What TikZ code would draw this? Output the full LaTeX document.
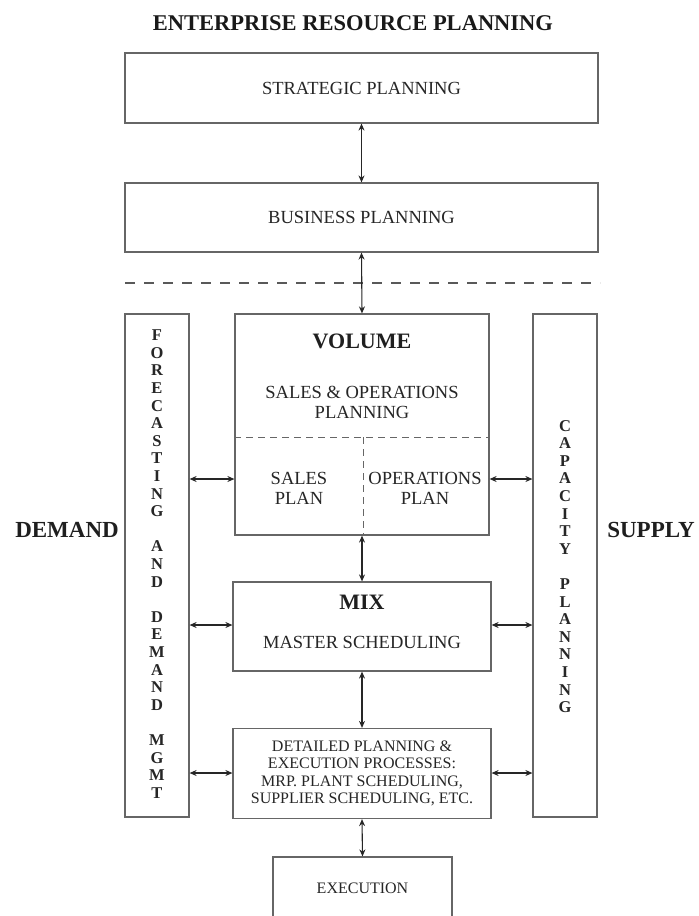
\documentclass[tikz,border=0pt]{standalone}
\usepackage{fontspec}
\setmainfont{Liberation Serif}
\usetikzlibrary{arrows.meta}
\definecolor{ink}{gray}{0.15}
\definecolor{rulegray}{gray}{0.40}
\begin{document}
\begin{tikzpicture}[x=1pt,y=-1pt,
  frame/.style={draw=rulegray, line width=1.2pt, rectangle, inner sep=0pt, text=ink},
  link/.style={draw=black!85, line width=1.1pt,
    {Stealth[length=7pt,width=6pt]}-{Stealth[length=7pt,width=6pt]}},
  divider/.style={draw=black!65, line width=1.1pt, dash pattern=on 10pt off 9pt},
  title/.style={font=\fontsize{22.5}{26}\selectfont\bfseries, text=black!90},
  head/.style={font=\fontsize{22}{26}\selectfont\bfseries, text=black!88},
  body/.style={font=\fontsize{18.5}{20}\selectfont, text=ink, align=center},
  small/.style={font=\fontsize{16}{17.5}\selectfont, text=ink, align=center},
  column/.style={font=\fontsize{16.5}{17.6}\selectfont\bfseries, text=black!85, align=center, inner sep=0pt},
  side/.style={font=\fontsize{23}{26}\selectfont\bfseries, text=black!88}
]
\clip (0,0) rectangle (699,916);
\fill[white] (0,0) rectangle (699,916);

% heading
\node[title] (erp) at (353,23) {ENTERPRISE RESOURCE PLANNING};

% upper planning levels
\node[frame, minimum width=473pt, minimum height=70pt, body] (strat) at (361.5,88) {STRATEGIC PLANNING};
\node[frame, minimum width=473pt, minimum height=69pt, body] (bus) at (361.5,217.5) {BUSINESS PLANNING};

% boundary between business and operational planning
\coordinate (dl) at (125,283);
\coordinate (dr) at (600,283);
\draw[divider] (dl) -- (dr);

% demand and supply columns
\node[frame, minimum width=64pt, minimum height=503pt] (fcst) at (157,565.5) {};
\node[frame, minimum width=64pt, minimum height=503pt] (cap) at (565,565.5) {};
\node[column] (fcsttxt) at (157,564) {F\\O\\R\\E\\C\\A\\S\\T\\I\\N\\G\\\mbox{}\\A\\N\\D\\\mbox{}\\D\\E\\M\\A\\N\\D\\\mbox{}\\M\\G\\M\\T};
\node[column] (captxt) at (565,566.5) {C\\A\\P\\A\\C\\I\\T\\Y\\\mbox{}\\P\\L\\A\\N\\N\\I\\N\\G};
\node[side] (demand) at (67,530) {DEMAND};
\node[side] (supply) at (651,530) {SUPPLY};

% volume: sales & operations planning
\node[frame, minimum width=254pt, minimum height=221pt] (vol) at (362,424.5) {};
\node[head] (voltxt) at (362,341) {VOLUME};
\node[body] (soptxt) at (362,402) {SALES \& OPERATIONS\\PLANNING};
\coordinate (hl) at (235,437);
\coordinate (hr) at (489,437);
\coordinate (vb) at (363,535);
\draw[rulegray, line width=1pt, dash pattern=on 7pt off 5pt] (vol.west |- hl) -- (vol.east |- hr);
\draw[rulegray, line width=1pt, dash pattern=on 7pt off 5pt] (vb |- hl) -- (vb);
\node[body] (salesplan) at (299,488) {SALES\\PLAN};
\node[body] (opsplan) at (425,488) {OPERATIONS\\PLAN};

% mix: master scheduling
\node[frame, minimum width=258pt, minimum height=89pt] (mix) at (362,626.5) {};
\node[head] (mixtxt) at (362,602) {MIX};
\node[body] (mstxt) at (362,642) {MASTER SCHEDULING};

% detailed planning and execution
\node[frame, minimum width=258pt, minimum height=90pt, small] (det) at (362,773.5)
  {DETAILED PLANNING \&\\EXECUTION PROCESSES:\\MRP. PLANT SCHEDULING,\\SUPPLIER SCHEDULING, ETC.};
\node[frame, minimum width=179pt, minimum height=70pt] (exec) at (362.5,892) {};
\node[small] (exectxt) at (362.5,888) {EXECUTION};

% vertical links
\draw[link] (strat.south) -- (bus.north);
\draw[link] (bus.south) -- (vol.north);
\draw[link] (vol.south) -- (mix.north);
\draw[link] (mix.south) -- (det.north);
\draw[link] (det.south) -- (exec.north);

% horizontal links
\coordinate (r1) at (0,479);
\coordinate (r2) at (0,625);
\coordinate (r3) at (0,773);
\draw[link] (fcst.east |- r1) -- (vol.west |- r1);
\draw[link] (vol.east |- r1) -- (cap.west |- r1);
\draw[link] (fcst.east |- r2) -- (mix.west |- r2);
\draw[link] (mix.east |- r2) -- (cap.west |- r2);
\draw[link] (fcst.east |- r3) -- (det.west |- r3);
\draw[link] (det.east |- r3) -- (cap.west |- r3);
\end{tikzpicture}
\end{document}
